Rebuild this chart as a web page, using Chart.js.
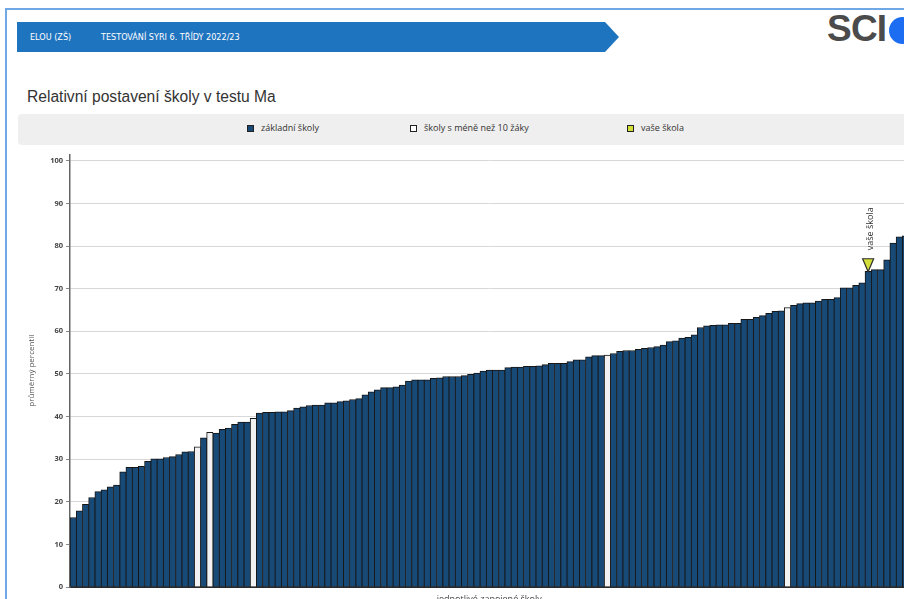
<!DOCTYPE html>
<html lang="cs">
<head>
<meta charset="utf-8">
<title>Relativní postavení školy v testu Ma</title>
<script src="https://cdn.jsdelivr.net/npm/chart.js@4.4.1/dist/chart.umd.min.js"></script>
<style>
  html, body {
    margin: 0;
    padding: 0;
    width: 904px;
    height: 599px;
    overflow: hidden;
    background: #fff;
    font-family: "Open Sans", sans-serif;
  }
  .frame {
    position: absolute;
    left: 5px;
    top: 8px;
    width: 1000px;
    height: 700px;
    border-left: 2px solid #6fa8e4;
    border-top: 2px solid #6fa8e4;
  }
  .banner {
    position: absolute;
    left: 17px;
    top: 22px;
    width: 602px;
    height: 30px;
    background: #1f74c0;
    clip-path: polygon(0 0, 588px 0, 602px 50%, 588px 100%, 0 100%);
    color: #fff;
    font-family: "DejaVu Sans Condensed", sans-serif;
    font-size: 9px;
    line-height: 30px;
  }
  .banner span { position: absolute; top: 0; }
  .logo {
    position: absolute;
    left: 827px;
    top: 8px;
    font-family: "Liberation Sans", Arial, sans-serif;
    font-weight: bold;
    font-size: 37px;
    letter-spacing: -0.8px;
    color: #4b4b4b;
  }
  .logo-dot {
    position: absolute;
    left: 889px;
    top: 17px;
    width: 27px;
    height: 27px;
    border-radius: 50%;
    background: #1c6df2;
  }
  .title {
    position: absolute;
    left: 27px;
    top: 88px;
    font-family: "Liberation Sans", Arial, sans-serif;
    font-size: 15.6px;
    color: #333;
  }
  .legend {
    position: absolute;
    left: 18px;
    top: 114px;
    width: 900px;
    height: 31px;
    background: #efefef;
    border-radius: 4px;
  }
  .legend .item {
    position: absolute;
    top: 0;
    line-height: 28px;
    font-size: 9px;
    color: #333;
    white-space: nowrap;
  }
  .legend .box {
    display: inline-block;
    width: 5px;
    height: 5px;
    border: 1.5px solid #222;
    margin-right: 7px;
    vertical-align: -1px;
  }
  .chart-wrap {
    position: absolute;
    left: 0;
    top: 147px;
    width: 920px;
    height: 461px;
  }
</style>
</head>
<body>
<div class="frame"></div>
<div class="banner">
  <span style="left:13px">ELOU (ZŠ)</span>
  <span style="left:84px">TESTOVÁNÍ SYRI 6. TŘÍDY 2022/23</span>
</div>
<div class="logo">SCI</div>
<div class="logo-dot"></div>
<div class="title">Relativní postavení školy v testu Ma</div>
<div class="legend" id="legend"></div>
<div class="chart-wrap"><canvas id="chart"></canvas></div>

<script>
// average percentile of each school, sorted ascending
const schoolValues = [
  16.3, 17.9, 19.4, 21.0, 22.4, 22.8, 23.5, 23.9, 27.0, 28.1,
  28.1, 28.3, 29.5, 30.1, 30.1, 30.4, 30.6, 31.1, 31.7, 31.8,
  32.9, 35.0, 36.3, 36.1, 37.0, 37.3, 38.2, 38.7, 38.7, 39.6,
  40.8, 41.0, 41.0, 41.1, 41.1, 41.4, 42.0, 42.3, 42.6, 42.7,
  42.7, 43.2, 43.2, 43.5, 43.7, 44.0, 44.2, 45.1, 45.8, 46.3,
  46.8, 46.8, 47.0, 47.4, 48.3, 48.6, 48.6, 48.6, 49.0, 49.1,
  49.4, 49.4, 49.4, 49.6, 49.9, 50.2, 50.7, 50.9, 50.9, 50.9,
  51.5, 51.6, 51.6, 51.8, 51.8, 51.9, 52.2, 52.5, 52.5, 52.5,
  52.9, 53.3, 53.3, 54.0, 54.3, 54.3, 54.4, 54.8, 55.3, 55.5,
  55.5, 55.8, 56.0, 56.2, 56.4, 56.8, 57.6, 57.8, 58.4, 58.6,
  59.2, 60.9, 61.3, 61.4, 61.5, 61.5, 61.9, 61.9, 62.8, 62.8,
  63.3, 63.7, 64.2, 64.7, 64.8, 65.6, 66.1, 66.5, 66.7, 66.7,
  67.1, 67.5, 67.5, 67.9, 70.2, 70.2, 70.8, 71.4, 74.1, 74.5,
  74.5, 76.8, 80.7, 82.2, 82.4
];
// schools with fewer than 10 pupils (zero-based positions)
const smallSchoolIdx = [20, 22, 29, 86, 115];
const ourSchoolIdx = 128;
const ourSchoolLabel = "vaše škola";

const legendLabels = ["základní školy", "školy s méně než 10 žáky", "vaše škola"];
const legendColors = ["#184a78", "#ffffff", "#d2de3a"];
const legendLeft = [229, 392, 609];

const yMin = 0;
const yMax = 101.5;
const yStep = 10;

const schoolLabels = schoolValues.map((v, i) => "škola " + (i + 1));

// legend band
const legendEl = document.getElementById("legend");
legendLabels.forEach((text, i) => {
  const item = document.createElement("div");
  item.className = "item";
  item.style.left = legendLeft[i] + "px";
  item.innerHTML = '<span class="box" style="background:' + legendColors[i] + '"></span>' + text;
  legendEl.appendChild(item);
});

const ourSchoolMarker = {
  id: "ourSchoolMarker",
  afterDatasetsDraw(chart) {
    const bar = chart.getDatasetMeta(0).data[ourSchoolIdx];
    if (!bar) return;
    const ctx = chart.ctx;
    const x = bar.x;
    const y = bar.y;
    ctx.save();
    ctx.beginPath();
    ctx.moveTo(x - 5.5, y - 12.5);
    ctx.lineTo(x + 5.5, y - 12.5);
    ctx.lineTo(x, y + 0.5);
    ctx.closePath();
    ctx.fillStyle = "#d2de3a";
    ctx.fill();
    ctx.lineWidth = 1.2;
    ctx.strokeStyle = "#2d2d2d";
    ctx.stroke();
    ctx.translate(x + 2, y - 21);
    ctx.rotate(-Math.PI / 2);
    ctx.font = '9px "Open Sans"';
    ctx.fillStyle = "#333";
    ctx.textBaseline = "middle";
    ctx.fillText(ourSchoolLabel, 0, 0);
    ctx.restore();
  }
};

new Chart(document.getElementById("chart"), {
  type: "bar",
  data: {
    labels: schoolLabels,
    datasets: [
      {
        data: schoolValues,
        backgroundColor: schoolValues.map((v, i) =>
          smallSchoolIdx.includes(i) ? "#f2f2f2" : "#184a78"
        ),
        borderColor: "#161616",
        borderWidth: { top: 1, left: 1, right: 0.6, bottom: 0 },
        borderSkipped: false,
        barPercentage: 1,
        categoryPercentage: 1,
      },
    ],
  },
  options: {
    responsive: true,
    maintainAspectRatio: false,
    animation: false,
    layout: { padding: { left: 22, right: 11.5, top: 1, bottom: 0 } },
    plugins: {
      legend: { display: false },
      tooltip: { enabled: false },
    },
    scales: {
      x: {
        grid: { display: false },
        ticks: { display: false },
        border: { color: "#2b2b2b", width: 2 },
        title: {
          display: true,
          text: "jednotlivé zapojené školy",
          color: "#444",
          font: { family: "Open Sans", size: 9 },
          padding: { top: 2, bottom: 3 },
        },
        afterFit: (scale) => { scale.height = 21; },
      },
      y: {
        min: yMin,
        max: yMax,
        ticks: {
          stepSize: yStep,
          includeBounds: false,
          color: "#444",
          padding: 3,
          font: { family: "Open Sans", size: 7.5, weight: "bold" },
        },
        grid: {
          color: (c) => (c.tick && c.tick.value === 0 ? "rgba(0,0,0,0)" : "#d8d8d8"),
          tickColor: "#888",
          tickLength: 4,
        },
        border: { color: "#666", width: 1.5 },
        title: {
          display: true,
          text: "průměrný percentil",
          color: "#555",
          font: { family: "Open Sans", size: 8 },
          padding: { top: 5, bottom: 4 },
        },
        afterFit: (scale) => { scale.width = 48; },
      },
    },
  },
  plugins: [ourSchoolMarker],
});
</script>
</body>
</html>
